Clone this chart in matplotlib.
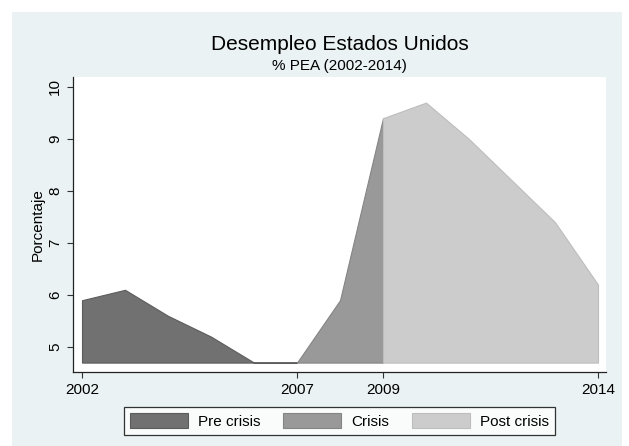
import matplotlib.pyplot as plt
from matplotlib.patches import Rectangle

plt.rcParams['font.family'] = ['Liberation Sans', 'DejaVu Sans']

years = [2002, 2003, 2004, 2005, 2006, 2007, 2008, 2009, 2010, 2011, 2012, 2013, 2014]
desempleo = [5.9, 6.1, 5.6, 5.2, 4.7, 4.7, 5.9, 9.4, 9.7, 9.0, 8.2, 7.4, 6.2]
periodos = [('Pre crisis', 2002, 2007), ('Crisis', 2007, 2009), ('Post crisis', 2009, 2014)]
colores = ['#717171', '#999999', '#cccccc']
bordes = ['#5c5c5c', '#858585', '#bdbdbd']
xticks = [2002, 2007, 2009, 2014]
yticks = [5, 6, 7, 8, 9, 10]

W, H = 629, 446
fig = plt.figure(figsize=(W / 100, H / 100), dpi=100)
fig.patch.set_facecolor('white')
fig.add_artist(Rectangle((12 / W, 0), 610 / W, 1 - 12 / H, transform=fig.transFigure,
                         facecolor='#eaf2f3', edgecolor='none', zorder=-5))

ax = fig.add_axes([73 / W, 1 - 372 / H, (606 - 73) / W, (372 - 77) / H])
ax.set_facecolor('white')

base = min(desempleo)
for (nombre, a, b), c, e in zip(periodos, colores, bordes):
    xs = [x for x in years if a <= x <= b]
    ys = [desempleo[years.index(x)] for x in xs]
    ax.fill_between(xs, ys, base, facecolor=c, edgecolor=e, linewidth=0.8, label=nombre)

ax.set_xlim(2002 - 9 / 43, 2014 + 8 / 43)
ax.set_ylim(5 - 25 / 52, 10 + 10 / 52)
ax.set_xticks(xticks)
ax.set_yticks(yticks)
ax.tick_params(labelsize=11, length=4.5, width=0.8, color='#333333')
for lab in ax.get_yticklabels():
    lab.set_rotation(90)
    lab.set_va('center')
for s in ['top', 'right']:
    ax.spines[s].set_visible(False)
for s in ['left', 'bottom']:
    ax.spines[s].set_linewidth(0.9)
    ax.spines[s].set_color('#222222')

ax.set_ylabel('Porcentaje', fontsize=11, labelpad=2)

fig.text(0.54, 1 - 44 / H, 'Desempleo Estados Unidos', ha='center', va='center', fontsize=15)
fig.text(0.54, 1 - 66 / H, '% PEA (2002-2014)', ha='center', va='center', fontsize=11)

leg = fig.legend(loc='center', bbox_to_anchor=(339.5 / W, 1 - 421 / H), ncol=3, fontsize=11,
                 frameon=True, fancybox=False, edgecolor='black', handlelength=3.8,
                 handleheight=1.1, columnspacing=1.5, handletextpad=0.65, borderpad=0.4,
                 borderaxespad=0)
leg.get_frame().set_linewidth(0.9)

fig.savefig('out.png', dpi=100)
